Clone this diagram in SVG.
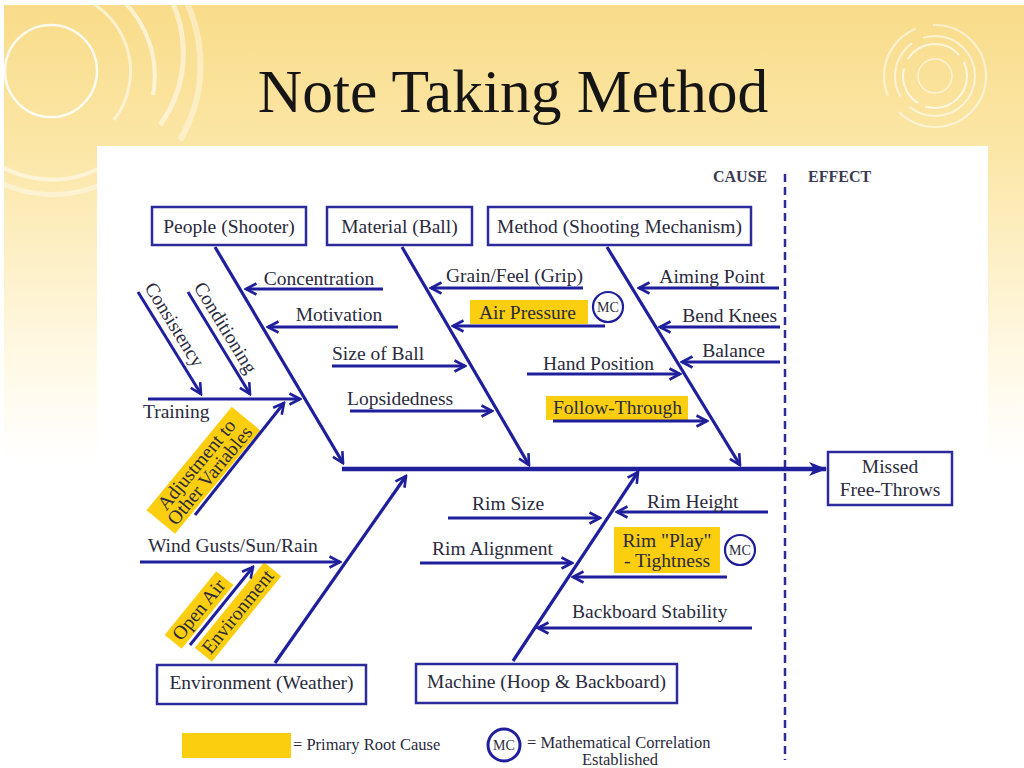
<svg xmlns="http://www.w3.org/2000/svg" width="1024" height="768" viewBox="0 0 1024 768">
<defs>
<linearGradient id="bg" x1="0" y1="0" x2="0" y2="1">
<stop offset="0" stop-color="#f9dc8a"/>
<stop offset="0.2" stop-color="#fbe7a8"/>
<stop offset="0.45" stop-color="#fff8e2"/>
<stop offset="0.6" stop-color="#ffffff"/>
</linearGradient>
<marker id="ah" viewBox="0 0 14 14" markerWidth="14" markerHeight="14" refX="12" refY="7" orient="auto" markerUnits="userSpaceOnUse">
<path d="M1.5,1.5 L12,7 L1.5,12.5" fill="none" stroke="#1f1f9c" stroke-width="2.6"/>
</marker>
<marker id="ahs" viewBox="0 0 18 16" markerWidth="18" markerHeight="16" refX="17" refY="8" orient="auto" markerUnits="userSpaceOnUse">
<path d="M0,1 L18,8 L0,15 L5,8 Z" fill="#1f1f9c"/>
</marker>
<style>
.t{font-family:"Liberation Serif","Times New Roman",serif;font-size:19.5px;fill:#2a2a3c}
.h{font-family:"Liberation Serif","Times New Roman",serif;font-size:16px;font-weight:bold;fill:#3a3a52}
.lg{font-family:"Liberation Serif","Times New Roman",serif;font-size:16.5px;fill:#2a2a3c}
.mc{font-family:"Liberation Serif","Times New Roman",serif;font-size:14px;fill:#2a2a3c}
.box{fill:#ffffff;stroke:#2d2a9c;stroke-width:2.5}
.ln{stroke:#1f1f9c;stroke-width:3;fill:none;marker-end:url(#ah)}
.bone{stroke:#1f1f9c;stroke-width:3.2;fill:none;marker-end:url(#ah)}
.hl{fill:#fbcf0f}
.circ{fill:#ffffff;stroke:#1f1f9c;stroke-width:2.2}
.deco{fill:none;stroke:#ffffff}
</style>
</defs>
<rect x="0" y="0" width="1024" height="768" fill="#ffffff"/>
<rect x="4" y="5" width="1020" height="763" fill="url(#bg)"/>
<g id="decor-left" class="deco">
<circle cx="51" cy="71" r="46" stroke-width="2.5" opacity="0.85"/>
<path d="M71,-6 A80,80 0 0 1 114,120" stroke-width="3" opacity="0.55"/>
<path d="M120,-2 A105,105 0 0 1 153,95" stroke-width="4" opacity="0.6"/>
<path d="M155,-25 A122,122 0 0 1 160,125" stroke-width="5" opacity="0.5"/>
<path d="M170,-25 A148,148 0 0 1 180,140" stroke-width="6" opacity="0.4"/>
<path d="M100,168 A105,105 0 0 1 -30,140" stroke-width="4" opacity="0.5"/>
<path d="M110,180 A120,120 0 0 1 -20,170" stroke-width="5" opacity="0.4"/>
</g>
<g id="decor-right" class="deco">
<circle cx="935" cy="76" r="17" stroke-width="1.5" opacity="0.6"/>
<circle cx="935" cy="76" r="32" stroke-width="2" opacity="0.7" stroke-dasharray="60 8 40 10"/>
<circle cx="935" cy="76" r="40" stroke-width="2" opacity="0.6" stroke-dasharray="90 14 60 12"/>
<circle cx="935" cy="76" r="51" stroke-width="2.2" opacity="0.55" stroke-dasharray="120 20 80 18"/>
</g>
<text x="513" y="112" text-anchor="middle" style="font-family:'Liberation Serif','Times New Roman',serif;font-size:61.5px;fill:#151515">Note Taking Method</text>
<rect x="97" y="146" width="891" height="616" fill="#ffffff"/>

<g id="headers">
<text class="h" x="713" y="182">CAUSE</text>
<text class="h" x="808" y="182">EFFECT</text>
<line x1="785" y1="174" x2="785" y2="760" stroke="#2d2a9c" stroke-width="2.5" stroke-dasharray="8 5"/>
</g>

<g id="highlights">
<rect class="hl" x="470" y="300" width="118" height="24"/>
<rect class="hl" x="546" y="396" width="142" height="24"/>
<rect class="hl" x="614" y="527" width="106" height="46"/>
<rect class="hl" x="-67" y="-18" width="134" height="37" transform="translate(203,470) rotate(-50.5)"/>
<rect class="hl" x="-41" y="-11" width="82" height="22" transform="translate(199,610) rotate(-51)"/>
<rect class="hl" x="-55" y="-11" width="110" height="22" transform="translate(238,612) rotate(-51)"/>
</g>

<g id="connectors">
<line x1="342" y1="469" x2="826" y2="469" stroke="#1f1f9c" stroke-width="4.5" marker-end="url(#ahs)"/>
<line class="bone" x1="215" y1="247" x2="343" y2="463"/>
<line class="bone" x1="402" y1="247" x2="529" y2="465"/>
<line class="bone" x1="607" y1="247" x2="740" y2="465"/>
<line class="bone" x1="275" y1="663" x2="406" y2="476"/>
<line class="bone" x1="513" y1="661" x2="638" y2="472"/>
<line class="ln" x1="383" y1="289" x2="246" y2="289"/>
<line class="ln" x1="398" y1="327" x2="268" y2="327"/>
<line class="ln" x1="148" y1="399" x2="300" y2="399"/>
<line class="ln" x1="138" y1="292" x2="201" y2="394"/>
<line class="ln" x1="188" y1="292" x2="250" y2="394"/>
<line class="ln" x1="195" y1="515" x2="284" y2="403"/>
<line class="ln" x1="140" y1="562" x2="340" y2="562"/>
<line class="ln" x1="190" y1="645" x2="253" y2="567"/>
<line class="ln" x1="583" y1="288" x2="431" y2="288"/>
<line class="ln" x1="605" y1="326" x2="453" y2="326"/>
<line class="ln" x1="332" y1="366" x2="465" y2="366"/>
<line class="ln" x1="350" y1="411" x2="492" y2="411"/>
<line class="ln" x1="779" y1="288" x2="639" y2="288"/>
<line class="ln" x1="780" y1="327" x2="660" y2="327"/>
<line class="ln" x1="780" y1="362" x2="682" y2="362"/>
<line class="ln" x1="527" y1="374" x2="680" y2="374"/>
<line class="ln" x1="553" y1="421" x2="707" y2="421"/>
<line class="ln" x1="448" y1="518" x2="600" y2="518"/>
<line class="ln" x1="768" y1="512" x2="617" y2="512"/>
<line class="ln" x1="420" y1="563" x2="572" y2="563"/>
<line class="ln" x1="727" y1="577" x2="573" y2="577"/>
<line class="ln" x1="752" y1="628" x2="538" y2="628"/>
</g>

<g id="node-people"><rect class="box" x="152" y="207" width="154" height="38"/><text class="t" x="229" y="233" text-anchor="middle">People (Shooter)</text></g>
<g id="node-material"><rect class="box" x="327" y="207" width="145" height="38"/><text class="t" x="399.5" y="233" text-anchor="middle">Material (Ball)</text></g>
<g id="node-method"><rect class="box" x="488" y="207" width="263" height="38"/><text class="t" x="619.5" y="233" text-anchor="middle">Method (Shooting Mechanism)</text></g>
<g id="node-environment"><rect class="box" x="157" y="665" width="209" height="39"/><text class="t" x="261.5" y="689" text-anchor="middle">Environment (Weather)</text></g>
<g id="node-machine"><rect class="box" x="416" y="664" width="261" height="39"/><text class="t" x="546.5" y="688" text-anchor="middle">Machine (Hoop &amp; Backboard)</text></g>
<g id="node-effect"><rect class="box" x="828" y="452" width="124" height="53"/><text class="t" x="890" y="473" text-anchor="middle">Missed</text><text class="t" x="890" y="496" text-anchor="middle">Free-Throws</text></g>

<g id="causes-people">
<text class="t" x="319" y="285" text-anchor="middle">Concentration</text>
<text class="t" x="339" y="321" text-anchor="middle">Motivation</text>
<text class="t" x="143" y="418">Training</text>
<text class="t" transform="translate(169,328) rotate(58.3)" text-anchor="middle">Consistency</text>
<text class="t" transform="translate(220,331) rotate(58.7)" text-anchor="middle">Conditioning</text>
<g transform="translate(203,470) rotate(-50.5)">
<text class="t" x="0" y="-2" text-anchor="middle">Adjustment to</text>
<text class="t" x="0" y="15" text-anchor="middle">Other Variables</text>
</g>
</g>
<g id="causes-material">
<text class="t" x="446" y="282">Grain/Feel (Grip)</text>
<text class="t" x="479" y="319">Air Pressure</text>
<text class="t" x="332" y="360">Size of Ball</text>
<text class="t" x="347" y="405">Lopsidedness</text>
<g id="mc-air"><circle class="circ" cx="608" cy="307" r="15"/><text class="mc" x="608" y="312" text-anchor="middle">MC</text></g>
</g>
<g id="causes-method">
<text class="t" x="765" y="283" text-anchor="end">Aiming Point</text>
<text class="t" x="777" y="322" text-anchor="end">Bend Knees</text>
<text class="t" x="765" y="357" text-anchor="end">Balance</text>
<text class="t" x="543" y="370">Hand Position</text>
<text class="t" x="553" y="414">Follow-Through</text>
</g>
<g id="causes-environment">
<text class="t" x="148" y="552">Wind Gusts/Sun/Rain</text>
<text class="t" transform="translate(199,610) rotate(-51)" x="0" y="6" text-anchor="middle">Open Air</text>
<text class="t" transform="translate(238,612) rotate(-51)" x="0" y="6" text-anchor="middle">Environment</text>
</g>
<g id="causes-machine">
<text class="t" x="472" y="510">Rim Size</text>
<text class="t" x="647" y="508">Rim Height</text>
<text class="t" x="432" y="555">Rim Alignment</text>
<text class="t" x="667" y="547" text-anchor="middle">Rim "Play"</text>
<text class="t" x="667" y="567" text-anchor="middle">- Tightness</text>
<text class="t" x="572" y="618">Backboard Stability</text>
<g id="mc-rim"><circle class="circ" cx="740" cy="550" r="15"/><text class="mc" x="740" y="555" text-anchor="middle">MC</text></g>
</g>

<g id="legend">
<rect class="hl" x="182" y="733" width="109" height="25"/>
<text class="lg" x="293" y="750">= Primary Root Cause</text>
<circle cx="504" cy="745" r="16" fill="#ffffff" stroke="#1f1f9c" stroke-width="3"/>
<text class="mc" x="504" y="750" text-anchor="middle">MC</text>
<text class="lg" x="527" y="748">= Mathematical Correlation</text>
<text class="lg" x="620" y="765" text-anchor="middle">Established</text>
</g>
</svg>
